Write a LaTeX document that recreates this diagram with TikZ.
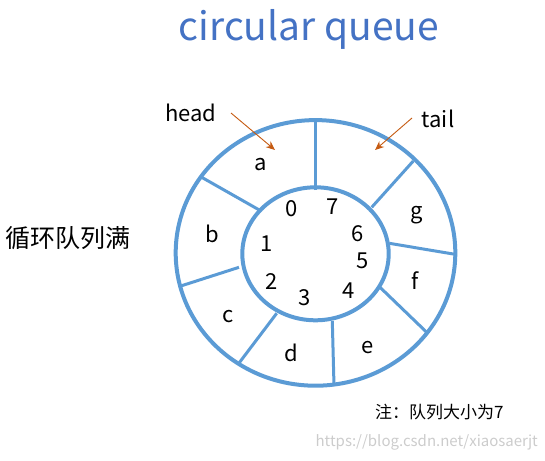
\documentclass[tikz,border=0pt]{standalone}
\usepackage{fontspec}
\setmainfont{Noto Sans CJK SC}
\usetikzlibrary{arrows.meta}
\definecolor{ring}{RGB}{91,155,213}
\definecolor{titleblue}{RGB}{68,114,196}
\definecolor{arrowc}{RGB}{197,90,17}
\tikzset{
  ringline/.style={draw=ring, line width=4pt},
  divider/.style={draw=ring, line width=3pt},
  cell/.style={font=\fontsize{22}{22}\selectfont, inner sep=0pt},
  idx/.style={font=\fontsize{22}{22}\selectfont, inner sep=0pt},
  ptr/.style={draw=arrowc, line width=0.9pt, -{Stealth[length=9pt,width=7.5pt]}},
  lbl/.style={font=\fontsize{22}{22}\selectfont, inner sep=0pt},
}
\begin{document}
\begin{tikzpicture}[x=1pt,y=-1pt]
\useasboundingbox (0,0) rectangle (545,460);
% title
\node[font=\fontsize{39}{39}\selectfont, text=titleblue, inner sep=0pt] (title) at (309,29) {circular queue};
% rings
\draw[ringline] (315.5,252.9) ellipse [x radius=139.8, y radius=132.8];
\draw[ringline] (315.5,253.8) ellipse [x radius=73.2, y radius=66.5];
% divider end points
\coordinate (i1) at (315.7,190); \coordinate (o1) at (315.7,121);
\coordinate (i2) at (371.7,207.3); \coordinate (o2) at (413.3,161);
\coordinate (i3) at (389.3,243.3); \coordinate (o3) at (455,254.3);
\coordinate (i4) at (380,287.3); \coordinate (o4) at (426.7,332.3);
\coordinate (i5) at (332.3,321); \coordinate (o5) at (334,386);
\coordinate (i6) at (276.7,313.3); \coordinate (o6) at (238.3,364);
\coordinate (i7) at (239,267.3); \coordinate (o7) at (181.7,285.7);
\coordinate (i8) at (259.3,210); \coordinate (o8) at (201.7,177.3);
\foreach \k in {1,...,8} {\draw[divider] (i\k) -- (o\k);}
% cell contents
\node[cell] (ca) at (261,165) {a};
\node[cell] (cb) at (212,234) {b};
\node[cell] (cc) at (228,317) {c};
\node[cell] (cd) at (291,353) {d};
\node[cell] (ce) at (368,348) {e};
\node[cell] (cf) at (415,281) {f};
\node[cell] (cg) at (417,215) {g};
% indices
\node[idx] (n0) at (292,209) {0};
\node[idx] (n7) at (333,207) {7};
\node[idx] (n1) at (267,244) {1};
\node[idx] (n6) at (358,234) {6};
\node[idx] (n5) at (363,261) {5};
\node[idx] (n2) at (272,282) {2};
\node[idx] (n3) at (305,298) {3};
\node[idx] (n4) at (349,291) {4};
% pointers
\node[lbl] (head) at (191,113) {head};
\node[lbl] (tail) at (438,119) {tail};
\coordinate (hs) at (231,113); \coordinate (he) at (275,150);
\coordinate (ts) at (412,118); \coordinate (te) at (375,150);
\draw[ptr] (hs) -- (he);
\draw[ptr] (ts) -- (te);
% side texts
\node[font=\fontsize{25}{25}\selectfont, inner sep=0pt, anchor=west] (full) at (5,238) {循环队列满};
\node[font=\fontsize{17}{17}\selectfont, inner sep=0pt, anchor=west] (note) at (375,412) {注：队列大小为7};
\node[font=\fontsize{15}{15}\selectfont, inner sep=0pt, anchor=east, text=black!20] (wm) at (538,442) {https://blog.csdn.net/xiaosaerjt};
\end{tikzpicture}
\end{document}
